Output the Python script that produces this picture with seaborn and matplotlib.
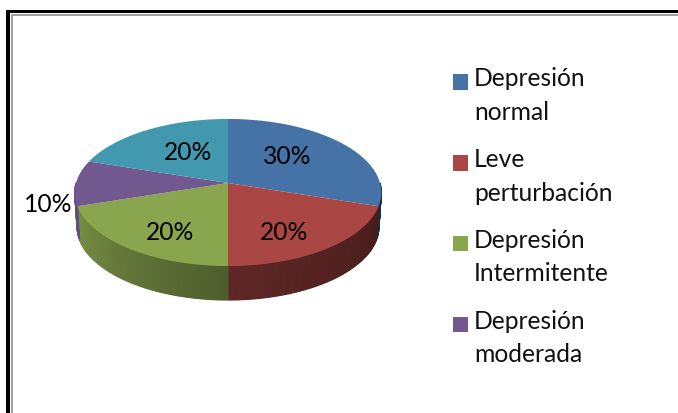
import numpy as np
import matplotlib
matplotlib.use("Agg")
import matplotlib.pyplot as plt
from matplotlib.patches import Patch, Rectangle
import seaborn as sns

categorias = ["Depresión\nnormal", "Leve\nperturbación", "Depresión\nIntermitente", "Depresión\nmoderada", "Otros"]
valores = [30, 20, 20, 10, 20]
colores = ["#4572A7", "#AA4643", "#89A54E", "#71588F", "#4198AF"]

sns.set_theme(style="white")
plt.rcParams['font.family'] = ['Lato', 'DejaVu Sans']

W, H = 678, 413
fig = plt.figure(figsize=(W / 100, H / 100), dpi=100)
ax = fig.add_axes([0, 0, 1, 1])
paleta = sns.color_palette(colores)

# proyeccion del pastel en perspectiva (en pixeles de la imagen)
cx, cy = 228, 183
A, B, k = 152, 72.3, 0.129
prof = 34

def proyectar(ang):
    X = np.cos(np.radians(ang))
    Y = np.sin(np.radians(ang))
    d = 1 + k * Y
    return cx + A * X / d, cy - B * Y / d

wedges, _ = ax.pie(valores, startangle=90, counterclock=False, colors=paleta)
angulos = [(w.theta1, w.theta2) for w in wedges]
for w in wedges:
    w.remove()

ax.set_aspect("auto")
ax.set_xlim(0, W)
ax.set_ylim(H, 0)
ax.axis("off")

# pared lateral, mas oscura hacia la derecha
for (t1, t2), color in zip(angulos, paleta):
    t1 = t1 % 360 if t1 % 360 != 0 else 360
    t2 = t2 % 360 if t2 % 360 != 0 else 360
    ini = max(t1, 180)
    fin = min(t2 if t2 > t1 else t2 + 360, 360)
    if fin <= ini:
        continue
    pasos = np.linspace(ini, fin, int(fin - ini) + 2)
    for a, b in zip(pasos[:-1], pasos[1:]):
        f = np.interp((a + b) / 2, [180, 270, 360], [0.95, 0.56, 0.38])
        xs, ys = proyectar(np.array([a, b]))
        xb = cx + (xs - cx) * 0.985
        c = tuple(v * f for v in color)
        ax.fill([xs[0], xs[1], xb[1], xb[0]], [ys[0], ys[1], ys[1] + prof, ys[0] + prof],
                facecolor=c, edgecolor=c, lw=0.8, zorder=2)

# tapa superior
for (t1, t2), color in zip(angulos, paleta):
    t = np.linspace(t1, t2, 80)
    xs, ys = proyectar(t)
    ax.fill(np.r_[cx, xs], np.r_[cy, ys], color=color, lw=0, zorder=3)

# etiquetas de porcentaje
pos_etiquetas = [(287, 157), (284, 233), (170, 233), (48, 205), (188, 153)]
for v, (x, y) in zip(valores, pos_etiquetas):
    ax.text(x, y, f"{v}%", ha="center", va="center", fontsize=17.7, color="black", zorder=5)

# leyenda (solo cuatro entradas visibles)
handles = [Patch(facecolor=c, edgecolor="none") for c in paleta[:4]]
leg = ax.legend(handles, categorias[:4], loc="upper left",
                bbox_to_anchor=(453 / W, 1 - 67.5 / H), bbox_transform=fig.transFigure,
                frameon=False, fontsize=17.7, handlelength=0.61, handleheight=0.61,
                handletextpad=0.25, labelspacing=1.0, borderpad=0, borderaxespad=0)
for t in leg.get_texts():
    t.set_linespacing(1.54)
    t.set_color("#111111")
for h in leg.legend_handles:
    h.set_y(h.get_y() + 10.5)

# marco del documento
def marco(x, y, ancho, alto, color):
    fig.add_artist(Rectangle((x / W, 1 - (y + alto) / H), ancho / W, alto / H,
                             transform=fig.transFigure, facecolor=color, edgecolor="none"))

marco(6, 10, 4, H - 10, "black")
marco(6, 10, W - 6, 3, "black")
marco(11, 14, 2, H - 14, "#a0a0a0")
marco(11, 14, W - 11, 2, "#a0a0a0")

fig.savefig("out.png", dpi=100)
